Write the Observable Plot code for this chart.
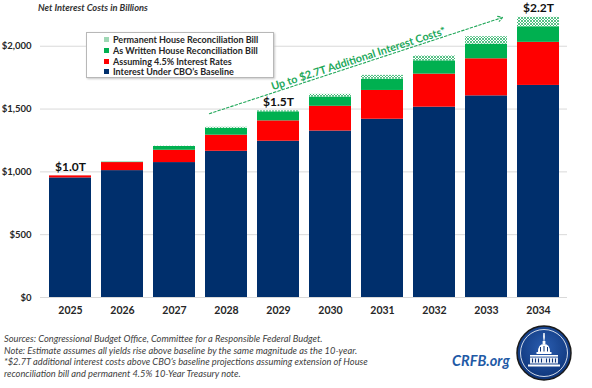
<!DOCTYPE html>
<html>
<head>
<meta charset="utf-8">
<script src="https://cdn.jsdelivr.net/npm/d3@7"></script>
<script src="https://cdn.jsdelivr.net/npm/@observablehq/plot@0.6"></script>
<style>
  html, body { margin: 0; padding: 0; background: #fff; }
  #wrap { position: relative; width: 592px; height: 388px; overflow: hidden; font-family: Lato, "Open Sans", sans-serif; }
  #title { position: absolute; left: 38px; top: 2px; font-size: 9.3px; font-weight: bold; font-style: italic; color: #333; white-space: nowrap; }
  #legend { position: absolute; left: 86px; top: 32px; width: 186px; height: 44px; border: 1px solid #b8b8b8; box-shadow: 1px 1px 2px #c8c8c8; background: #fff; }
  .lrow { position: absolute; left: 17px; height: 11px; font-size: 9px; font-weight: bold; color: #262626; white-space: nowrap; line-height: 11px; }
  .sw { display: inline-block; width: 5px; height: 5px; margin-right: 4px; vertical-align: 1px; }
  #notes { position: absolute; left: 4px; top: 333px; font-size: 9.3px; font-style: italic; color: #404040; line-height: 11.5px; white-space: nowrap; }
  #crfb { position: absolute; left: 452px; top: 352px; font-size: 14.5px; font-weight: bold; font-style: italic; color: #1f5aa6; white-space: nowrap; }
  #logo { position: absolute; left: 516px; top: 325px; }
  #chart { position: absolute; left: 0; top: 0; }
</style>
</head>
<body>
<div id="wrap">
  <div id="chart"></div>
  <div id="title">Net Interest Costs in Billions</div>
  <div id="legend"></div>
  <div id="notes"></div>
  <div id="crfb">CRFB.org</div>
  <svg id="logo" width="56" height="56" viewBox="0 0 56 56">
    <defs>
      <radialGradient id="lg" cx="50%" cy="40%" r="60%">
        <stop offset="0%" stop-color="#2a5db0"/>
        <stop offset="100%" stop-color="#0d3478"/>
      </radialGradient>
    </defs>
    <circle cx="28" cy="28" r="27" fill="url(#lg)" stroke="#1a1a1a" stroke-width="1.5"/>
    <circle cx="28" cy="28" r="23.5" fill="none" stroke="#ffffff" stroke-width="0.8"/>
    <g fill="#ffffff">
      <path d="M27.3 8 L28.7 8 L28.9 12 L28.3 16 L27.7 16 L27.1 12 Z"/>
      <rect x="26.6" y="16" width="2.8" height="3"/>
      <path d="M22 27 Q22 19 28 19 Q34 19 34 27 Z"/>
      <rect x="20.5" y="27" width="15" height="2"/>
      <rect x="14" y="30" width="28" height="1.6"/>
      <rect x="14" y="32.5" width="28" height="6" fill-opacity="0.9"/>
      <rect x="12" y="39.5" width="32" height="2"/>
    </g>
    <g fill="#0d3478">
      <rect x="16" y="33.5" width="1" height="4"/><rect x="19" y="33.5" width="1" height="4"/>
      <rect x="22" y="33.5" width="1" height="4"/><rect x="25" y="33.5" width="1" height="4"/>
      <rect x="30" y="33.5" width="1" height="4"/><rect x="33" y="33.5" width="1" height="4"/>
      <rect x="36" y="33.5" width="1" height="4"/><rect x="39" y="33.5" width="1" height="4"/>
      <rect x="24" y="22" width="1" height="4.5"/><rect x="27.5" y="21" width="1" height="5.5"/><rect x="31" y="22" width="1" height="4.5"/>
    </g>
  </svg>
</div>
<script>
// ---- data ----
const years = ["2025","2026","2027","2028","2029","2030","2031","2032","2033","2034"];
const baseline  = [952, 1010, 1074, 1164, 1244, 1325, 1419, 1515, 1605, 1688];
const rate45    = [16, 64, 98, 128, 162, 197, 229, 263, 295, 343];
const asWritten = [0, 3, 30, 56, 72, 74, 90, 106, 117, 124];
const permanent = [0, 0, 2, 7, 8, 21, 30, 38, 59, 75];
const seriesNames = [
  "Interest Under CBO’s Baseline",
  "Assuming 4.5% Interest Rates",
  "As Written House Reconciliation Bill",
  "Permanent House Reconciliation Bill"
];
const seriesColors = ["#002f6c", "#ff0000", "#00b050", "url(#hatchGreen)"];
const legendSwatch = ["#002f6c", "#ff0000", "#00b050", "#9fd8b5"];
const yTicks = [0, 500, 1000, 1500, 2000];
const totalLabelYears = ["2025", "2029", "2034"];
const totalLabels = ["$1.0T", "$1.5T", "$2.2T"];
const annotationText = "Up to $2.7T Additional Interest Costs*";
const notes = [
  "Sources: Congressional Budget Office, Committee for a Responsible Federal Budget.",
  "Note: Estimate assumes all yields rise above baseline by the same magnitude as the 10-year.",
  "*$2.7T additional interest costs above CBO’s baseline projections assuming extension of House",
  "reconciliation bill and permanent 4.5% 10-Year Treasury note."
];

// ---- build table ----
const seriesValues = [baseline, rate45, asWritten, permanent];
const rows = [];
seriesNames.forEach((s, si) => {
  years.forEach((y, yi) => rows.push({year: y, series: s, value: seriesValues[si][yi], color: seriesColors[si], order: si}));
});
const totals = years.map((y, i) => baseline[i] + rate45[i] + asWritten[i] + permanent[i]);
const labelRows = totalLabelYears.map((y, i) => ({year: y, total: totals[years.indexOf(y)], label: totalLabels[i]}));
const arrowRow = [{x1: "2028", x2: "2033", y1: 1508, y2: 2187}];
const annoRow = [{x: "2030", y: 1900, text: annotationText}];

const green = "#22a85a";

const chart = Plot.plot({
  width: 592,
  height: 325,
  marginLeft: 40,
  marginRight: 25,
  marginTop: 0,
  marginBottom: 28,
  style: {fontFamily: "Lato, 'Open Sans', sans-serif", background: "transparent"},
  x: {domain: years, paddingInner: 0.2, paddingOuter: 0.1, label: null},
  y: {domain: [0, 2364], label: null},
  color: {type: "identity"},
  marks: [
    Plot.gridY(yTicks, {stroke: "#d9d9d9", strokeOpacity: 1, strokeWidth: 1}),
    Plot.barY(rows, Plot.stackY({x: "year", y: "value", fill: "color", order: "order"})),
    Plot.axisX({tickSize: 0, tickPadding: 9, fontSize: 10.5, fontWeight: "bold", fill: "#262626"}),
    Plot.axisY({ticks: yTicks, tickSize: 0, tickPadding: 9, fontSize: 9.5, fontWeight: "bold", fill: "#262626",
      tickFormat: d => "$" + d3.format(",")(d)}),
    Plot.text(labelRows, {x: "year", y: "total", text: "label", dy: -9, fontSize: 12, fontWeight: "bold", fill: "#111"}),
    Plot.arrow(arrowRow, {x1: "x1", x2: "x2", y1: "y1", y2: "y2", stroke: green, strokeWidth: 1.1,
      strokeDasharray: "2.5,2", headLength: 7, insetStart: -18, insetEnd: -17}),
    Plot.text(annoRow, {x: "x", y: "y", text: "text", dx: 28, rotate: -18, fontSize: 10.8, fontWeight: "bold", fill: green})
  ]
});

// hatch pattern defs
const svg = d3.select(chart);
const defs = svg.insert("defs", ":first-child");
const pat = defs.append("pattern").attr("id", "hatchGreen").attr("patternUnits", "userSpaceOnUse")
  .attr("width", 3).attr("height", 3);
pat.append("rect").attr("width", 3).attr("height", 3).attr("fill", "#ffffff");
pat.append("path").attr("d", "M0,0 L3,3 M3,0 L0,3").attr("stroke", "#2fb36a").attr("stroke-width", 0.8);

document.getElementById("chart").appendChild(chart);

// legend
const leg = document.getElementById("legend");
const legOrder = [3, 2, 1, 0];
legOrder.forEach((si, i) => {
  const r = document.createElement("div");
  r.className = "lrow";
  r.style.top = (1 + i * 10.8) + "px";
  const sw = document.createElement("span");
  sw.className = "sw";
  sw.style.background = legendSwatch[si];
  r.appendChild(sw);
  r.appendChild(document.createTextNode(seriesNames[si]));
  leg.appendChild(r);
});

// notes
const nd = document.getElementById("notes");
notes.forEach(t => { const d = document.createElement("div"); d.textContent = t; nd.appendChild(d); });
</script>
</body>
</html>
